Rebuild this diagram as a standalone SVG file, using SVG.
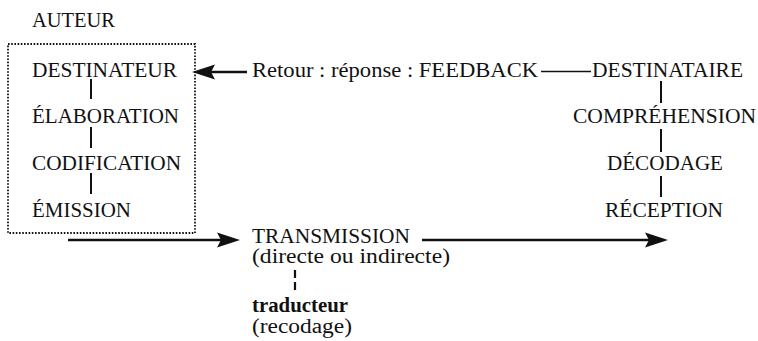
<svg xmlns="http://www.w3.org/2000/svg" width="758" height="341" viewBox="0 0 758 341">
<style>
text{font-family:"Liberation Serif","DejaVu Serif","Times New Roman",serif;font-size:20px;fill:#111}
.b{font-weight:bold}
.v{stroke:#111;stroke-width:2;fill:none}
.a{stroke:#111;stroke-width:2.5;fill:none}
.box{stroke:#111;stroke-width:1.8;fill:none;stroke-dasharray:1.6 1.6}
</style>
<defs>
<marker id="ah" markerUnits="userSpaceOnUse" markerWidth="26" markerHeight="18" refX="13" refY="8" orient="auto">
<path d="M0,0.5 L23,8 L0,15.5 L4,8 Z" fill="#111"/>
</marker>
</defs>
<g id="auteur"><text x="32" y="27" textLength="83" lengthAdjust="spacingAndGlyphs">AUTEUR</text></g>
<g id="auteur-box"><rect class="box" x="8" y="44" width="187" height="189"/></g>
<g id="destinateur"><text x="32" y="77" textLength="145" lengthAdjust="spacingAndGlyphs">DESTINATEUR</text></g>
<g id="elaboration"><text x="32" y="123" textLength="147" lengthAdjust="spacingAndGlyphs">ÉLABORATION</text></g>
<g id="codification"><text x="32" y="170" textLength="149" lengthAdjust="spacingAndGlyphs">CODIFICATION</text></g>
<g id="emission"><text x="32" y="217" textLength="99" lengthAdjust="spacingAndGlyphs">ÉMISSION</text></g>
<g id="feedback"><text x="252" y="77" textLength="286" lengthAdjust="spacingAndGlyphs">Retour : réponse : FEEDBACK</text></g>
<g id="destinataire"><text x="592" y="77" textLength="151" lengthAdjust="spacingAndGlyphs">DESTINATAIRE</text></g>
<g id="comprehension"><text x="573" y="123" textLength="183" lengthAdjust="spacingAndGlyphs">COMPRÉHENSION</text></g>
<g id="decodage"><text x="607" y="170" textLength="116" lengthAdjust="spacingAndGlyphs">DÉCODAGE</text></g>
<g id="reception"><text x="605" y="217" textLength="118" lengthAdjust="spacingAndGlyphs">RÉCEPTION</text></g>
<g id="transmission">
<text x="252" y="243" textLength="158" lengthAdjust="spacingAndGlyphs">TRANSMISSION</text>
<text x="252" y="263" textLength="198" lengthAdjust="spacingAndGlyphs">(directe ou indirecte)</text>
</g>
<g id="traducteur">
<text class="b" x="252" y="312" textLength="96" lengthAdjust="spacingAndGlyphs">traducteur</text>
<text x="252" y="333" textLength="100" lengthAdjust="spacingAndGlyphs">(recodage)</text>
</g>
<g id="connectors">
<line class="v" x1="91" y1="79" x2="91" y2="99"/>
<line class="v" x1="91" y1="127" x2="91" y2="148"/>
<line class="v" x1="91" y1="173" x2="91" y2="194"/>
<line class="v" x1="661" y1="81" x2="661" y2="103"/>
<line class="v" x1="661" y1="129" x2="661" y2="152"/>
<line class="v" x1="661" y1="176" x2="661" y2="197"/>
<line x1="541" y1="71.5" x2="591" y2="71.5" stroke="#111" stroke-width="1.6"/>
<line class="a" x1="247" y1="72" x2="202" y2="72" marker-end="url(#ah)"/>
<line class="a" x1="68" y1="240" x2="230" y2="240" marker-end="url(#ah)"/>
<line class="a" x1="422" y1="240" x2="658" y2="240" marker-end="url(#ah)"/>
<line x1="295" y1="270" x2="295" y2="292" stroke="#111" stroke-width="2.2" stroke-dasharray="8 4"/>
</g>
</svg>
